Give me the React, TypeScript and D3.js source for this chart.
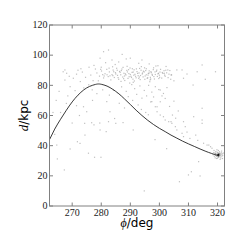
import React from 'react';
import * as d3 from 'd3';

// model orbit (phi in deg, distance in kpc)
const modelPhi = [262.2, 264, 266, 268, 270, 272, 274, 276, 278, 279, 280, 282, 284, 286, 288, 290, 292, 294, 296, 298, 300, 302, 304, 306, 308, 310, 312, 314, 316, 318, 320, 320.5];
const modelDist = [44, 51, 57.5, 63.5, 69, 73.5, 77, 79.3, 80.6, 80.9, 80.7, 79.5, 77.3, 74.5, 71, 67.3, 63.5, 60, 56.8, 54, 51.5, 49.3, 47, 45, 43, 41.2, 39.5, 37.8, 36.2, 34.8, 33.5, 33.2];

// observed stars [phi, d]
const bandStars: [number, number][] = [
  [278.5, 88.2], [279.4, 86.1], [280.1, 89.5], [280.8, 84.9], [281.3, 87.7], [281.9, 90.6], [282.4, 85.8], [282.8, 88.9], [283.3, 83.6], [283.7, 87.1],
  [284.1, 90.1], [284.5, 85.2], [284.9, 88.4], [285.3, 91.3], [285.6, 86.6], [286.0, 84.0], [286.3, 89.2], [286.7, 87.0], [287.1, 90.8], [287.4, 85.5],
  [287.8, 88.0], [288.1, 83.2], [288.5, 86.9], [288.8, 89.9], [289.2, 84.6], [289.5, 87.8], [289.9, 91.5], [290.2, 86.0], [290.6, 88.6], [290.9, 84.1],
  [291.3, 90.3], [291.6, 87.3], [292.0, 85.0], [292.3, 89.1], [292.7, 86.4], [293.0, 88.2], [293.4, 83.8], [293.7, 90.0], [294.1, 87.5], [294.4, 85.6],
  [294.8, 88.9], [295.1, 86.2], [295.5, 91.0], [295.8, 84.7], [296.2, 87.9], [296.5, 89.6], [296.9, 85.3], [297.2, 88.4], [297.6, 86.6], [297.9, 90.4],
  [298.3, 84.2], [298.6, 87.2], [299.0, 89.3], [299.3, 85.9], [299.7, 88.0], [300.0, 86.7], [300.4, 90.6], [300.8, 84.8], [301.2, 87.9], [301.6, 89.7],
  [302.0, 86.0], [302.5, 88.3], [303.0, 85.1], [303.6, 89.8], [304.2, 86.9],
  [285.0, 87.5], [286.5, 88.6], [288.0, 86.2], [289.0, 88.9], [290.0, 87.2], [291.0, 88.8], [292.5, 87.9], [293.5, 86.5], [294.5, 89.4], [295.5, 87.0],
  [296.5, 88.2], [297.5, 87.3], [298.5, 88.9], [299.5, 87.6], [291.8, 86.0], [293.2, 91.2], [289.6, 85.7], [287.5, 91.9], [284.0, 86.4], [282.0, 87.0],
  [296.0, 85.0], [298.0, 91.6], [300.2, 88.8], [295.0, 84.0],
  [283.0, 86.3], [284.3, 89.0], [285.8, 85.1], [286.9, 89.8], [288.3, 87.6], [289.4, 90.4], [290.4, 85.2], [291.2, 86.7], [292.1, 90.9], [293.1, 85.5],
  [294.2, 88.2], [295.3, 89.8], [296.1, 86.8], [297.1, 89.1], [298.1, 85.8], [299.1, 90.1], [300.1, 85.3], [301.0, 88.5], [302.2, 90.0], [303.3, 87.4],
  [281.0, 86.2], [282.7, 91.4], [285.5, 90.0], [287.7, 84.4], [290.7, 91.0], [292.9, 84.6], [294.9, 91.6], [297.0, 84.2], [299.8, 84.5], [301.8, 86.8],
  [279.8, 90.6], [283.9, 92.3], [288.9, 92.6], [293.8, 92.4], [298.8, 92.8], [286.8, 82.6], [291.4, 82.9], [296.7, 82.4], [303.9, 84.0], [280.5, 87.1],
];

const upperStars: [number, number][] = [
  [279.6, 98.0], [280.8, 102.3], [282.5, 103.4], [283.7, 96.8], [290.0, 98.0], [292.9, 94.6], [286.0, 95.5], [288.6, 97.5], [284.8, 93.8], [277.5, 93.2],
  [281.5, 95.0], [296.5, 94.2], [299.5, 93.0], [287.2, 100.5], [275.8, 92.0], [273.0, 91.0], [302.3, 92.5], [294.0, 96.8],
  [267.5, 90.2], [268.1, 88.0], [270.4, 84.7], [269.3, 79.1], [266.9, 89.0], [267.5, 83.5], [271.5, 87.4], [272.8, 82.5], [273.5, 88.8], [274.6, 85.3],
  [275.7, 80.4], [276.4, 86.8], [277.2, 83.1], [278.0, 90.8], [274.0, 78.3], [271.0, 76.5], [269.0, 86.0], [276.9, 77.0], [279.0, 83.0], [280.0, 92.0],
  [272.0, 90.0], [264.5, 70.0], [263.4, 62.0], [265.5, 76.0], [268.5, 73.0],
  [306.0, 90.2], [307.8, 90.2], [313.0, 89.0], [314.7, 93.5], [315.8, 84.0], [319.3, 89.0], [311.6, 80.2], [308.3, 84.7], [304.0, 86.9], [302.9, 90.2],
  [301.7, 88.0], [305.0, 83.0], [309.5, 87.5],
];

const trailStars: [number, number][] = [
  [290.5, 80.5], [291.5, 77.8], [292.2, 74.0], [293.3, 79.6], [294.0, 71.5], [294.8, 76.6], [295.6, 73.0], [296.3, 80.0], [296.8, 83.6], [297.0, 69.0],
  [297.4, 75.5], [297.4, 69.2], [298.0, 72.3], [298.6, 79.1], [298.6, 65.8], [299.2, 62.5], [299.2, 65.8], [299.8, 77.2], [300.3, 76.9], [300.3, 69.1],
  [300.3, 60.3], [300.9, 73.0], [301.4, 74.6], [301.4, 59.2], [302.0, 71.3], [302.0, 57.0], [302.6, 78.5], [303.2, 55.9], [303.5, 66.0], [304.3, 54.8],
  [304.5, 60.3], [304.0, 55.9], [305.6, 58.2], [305.0, 69.5], [305.5, 52.6], [306.0, 50.4], [306.5, 63.0], [307.8, 48.2], [308.3, 46.0], [308.9, 52.6],
  [308.3, 55.9], [309.5, 49.0], [310.5, 44.8], [311.8, 59.2], [312.5, 47.0], [313.2, 43.5], [314.7, 54.8], [314.7, 57.0], [314.7, 64.8], [315.2, 41.6],
  [316.4, 40.4], [317.0, 40.4], [317.6, 39.3], [318.1, 38.3], [319.3, 34.9], [288.6, 76.0], [289.3, 72.5], [290.8, 70.0], [292.7, 67.0], [293.8, 64.0],
  [295.3, 62.0], [296.2, 60.5], [289.8, 81.5], [291.0, 82.0],
];

const lowerStars: [number, number][] = [
  [273.9, 65.8], [275.0, 62.5], [281.9, 69.2], [283.0, 62.5], [286.2, 68.1], [284.2, 76.9], [285.9, 74.6], [279.6, 50.4], [281.7, 49.3], [274.4, 47.0],
  [270.0, 55.0], [272.5, 60.0], [277.0, 70.0], [278.5, 74.5], [280.5, 77.0], [282.8, 73.5], [287.0, 79.0], [284.6, 58.0], [288.0, 65.0], [274.3, 54.8],
  [276.7, 55.2], [277.5, 53.8], [279.5, 55.0], [282.5, 55.9], [285.0, 54.8], [291.0, 50.4], [287.5, 55.3], [266.0, 62.0], [268.0, 68.0], [271.5, 66.5],
  [264.7, 40.4], [264.9, 31.2], [267.3, 23.9], [269.3, 37.8], [271.8, 42.6], [272.7, 41.5], [275.6, 35.0], [277.7, 32.3], [279.9, 32.3], [294.8, 10.0],
  [306.9, 16.1], [310.0, 20.6], [311.0, 22.7], [314.0, 19.9], [313.5, 29.4], [264.0, 47.5], [298.5, 44.0], [302.5, 38.0],
];

const clusterStars: [number, number][] = [
  [320.3, 33.8], [320.1, 33.5], [320.5, 34.1], [320.2, 34.3], [320.4, 33.3], [320.0, 34.0], [320.6, 33.6], [320.3, 34.6], [320.1, 32.9], [320.7, 34.4],
  [319.9, 33.4], [320.5, 32.8], [320.8, 33.9], [319.8, 34.5], [320.2, 35.2], [320.6, 35.0], [319.6, 33.0], [321.0, 33.2], [320.9, 34.8], [319.5, 34.2],
  [321.2, 34.0], [320.4, 32.2], [319.9, 35.6], [321.3, 35.3], [319.3, 33.6], [320.0, 31.8], [321.5, 33.0], [319.1, 34.9], [321.6, 34.6], [320.7, 36.0],
  [319.7, 31.5], [321.1, 31.9], [318.9, 33.0], [321.8, 33.6], [320.3, 36.8], [319.4, 36.1], [321.4, 36.4], [318.7, 35.4], [320.9, 30.9], [319.2, 31.9],
  [322.0, 35.1], [318.5, 34.0], [319.8, 37.3], [321.7, 31.5], [318.8, 36.8],
  [320.2, 33.9], [320.4, 34.0], [320.3, 33.6], [320.2, 33.4], [320.4, 34.4], [320.1, 34.1], [320.5, 33.4], [320.3, 34.2],
  [320.3, 33.9], [320.2, 33.7], [320.4, 33.8], [320.3, 34.1], [320.2, 34.0], [320.3, 33.5],
];

const xTicks = [270, 280, 290, 300, 310, 320];
const yTicks = [0, 20, 40, 60, 80, 100, 120];

const W = 249;
const H = 249;
const margin = { top: 25, right: 24.5, bottom: 43, left: 49.5 };

const App: React.FC = () => {
  const x = d3.scaleLinear().domain([262.2, 322.4]).range([margin.left, W - margin.right]);
  const y = d3.scaleLinear().domain([0, 120]).range([H - margin.bottom, margin.top]);

  const line = d3.line<number>()
    .x((_, i) => x(modelPhi[i]))
    .y(d => y(d))
    .curve(d3.curveNatural);

  const allStars = [...bandStars, ...upperStars, ...trailStars, ...lowerStars, ...clusterStars];
  const x0 = margin.left, x1 = W - margin.right, y0 = margin.top, y1 = H - margin.bottom;
  const axisColor = '#808080';
  const tickLen = 3.5;

  return (
    <svg width={W} height={H} style={{ position: 'absolute', left: 0, top: 0, background: '#fff' }}>
      <defs>
        <clipPath id="plot"><rect x={x0} y={y0} width={x1 - x0} height={y1 - y0} /></clipPath>
      </defs>
      <g clipPath="url(#plot)">
        {allStars.map((s, i) => (
          <rect key={i} x={x(s[0]) - 0.6} y={y(s[1]) - 0.6} width={1.2} height={1.2} fill="#000" fillOpacity={0.25} />
        ))}
        <path d={line(modelDist) ?? ''} fill="none" stroke="#222" strokeWidth={0.9} />
      </g>
      <rect x={x0} y={y0} width={x1 - x0} height={y1 - y0} fill="none" stroke={axisColor} strokeWidth={1} />
      {xTicks.map(t => (
        <g key={'x' + t}>
          <line x1={x(t)} x2={x(t)} y1={y1} y2={y1 - tickLen} stroke={axisColor} />
          <line x1={x(t)} x2={x(t)} y1={y0} y2={y0 + tickLen} stroke={axisColor} />
          <text x={x(t)} y={y1 + 9.5} textAnchor="middle" fontFamily="Liberation Serif" fontSize={10} fill="#222">{t}</text>
        </g>
      ))}
      {yTicks.map(t => (
        <g key={'y' + t}>
          <line x1={x0} x2={x0 + tickLen} y1={y(t)} y2={y(t)} stroke={axisColor} />
          <line x1={x1} x2={x1 - tickLen} y1={y(t)} y2={y(t)} stroke={axisColor} />
          <text x={x0 - 2} y={y(t)} dy="0.33em" textAnchor="end" fontFamily="Liberation Serif" fontSize={10} fill="#222">{t}</text>
        </g>
      ))}
      <text x={(x0 + x1) / 2} y={227} textAnchor="middle" fontFamily="DejaVu Sans" fontSize={12} fill="#000">
        <tspan fontFamily="Liberation Serif" fontStyle="italic" fontSize={12}>ϕ</tspan>/deg
      </text>
      <text transform={`translate(28, ${(y0 + y1) / 2}) rotate(-90)`} textAnchor="middle" fontFamily="DejaVu Sans" fontSize={12} fill="#000">
        <tspan fontFamily="Liberation Serif" fontStyle="italic" fontSize={13}>d</tspan>/kpc
      </text>
    </svg>
  );
};

export default App;
